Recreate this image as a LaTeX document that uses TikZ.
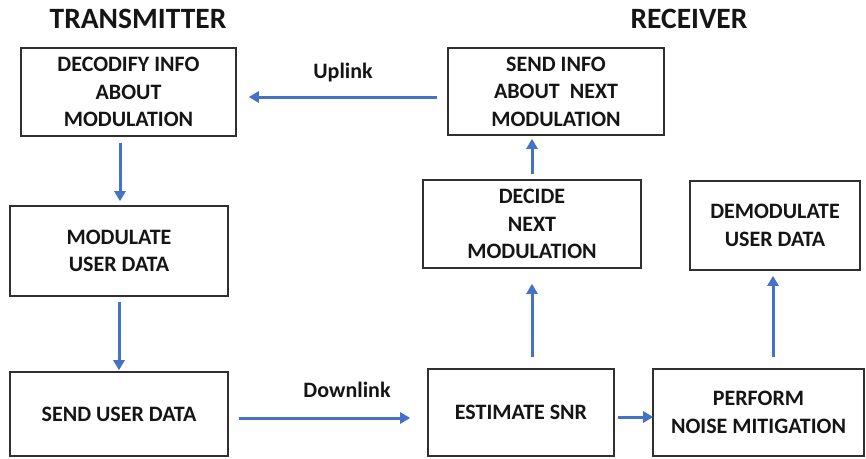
\documentclass[tikz,border=0pt]{standalone}
\usepackage{fontspec}
\setmainfont{Carlito}
\usetikzlibrary{arrows.meta,calc}
\definecolor{arrblue}{HTML}{4472C4}
\definecolor{boxline}{HTML}{303030}
\definecolor{txt}{HTML}{151515}
\begin{document}
\begin{tikzpicture}[x=1pt,y=-1pt,
  box/.style={draw=boxline,line width=1.6pt,rectangle,inner sep=0pt,align=center,
    text=txt,font=\fontsize{22}{27.5}\selectfont\bfseries},
  arr/.style={draw=arrblue,line width=3pt,-{Triangle[length=10pt,width=11pt]}},
  title/.style={text=txt,font=\fontsize{29.5}{34}\selectfont\bfseries,inner sep=0pt},
  lbl/.style={text=txt,font=\fontsize{22}{26}\selectfont\bfseries,inner sep=0pt}]
\useasboundingbox (0,0) rectangle (866,458);
\fill[white] (0,0) rectangle (866,458);
\node[title] (tx) at (138,19) {TRANSMITTER};
\node[title] (rx) at (689,19) {RECEIVER};
\node[box,minimum width=215pt,minimum height=88pt] (b1) at (128.5,92) {DECODIFY INFO\\ABOUT\\MODULATION};
\node[box,minimum width=218pt,minimum height=90pt] (b2) at (119,251) {MODULATE\\USER DATA};
\node[box,minimum width=218pt,minimum height=84pt] (b3) at (119,414) {SEND USER DATA};
\node[box,minimum width=216pt,minimum height=87pt] (b4) at (556,91.5) {SEND INFO\\ABOUT~~NEXT\\MODULATION};
\node[box,minimum width=218pt,minimum height=88pt] (b5) at (532,224) {DECIDE\\NEXT\\MODULATION};
\node[box,minimum width=170pt,minimum height=89pt] (b6) at (775,225.5) {DEMODULATE\\USER DATA};
\node[box,minimum width=186pt,minimum height=87pt] (b7) at (521,412.5) {ESTIMATE SNR};
\node[box,minimum width=211pt,minimum height=87pt] (b8) at (758.5,412.5) {PERFORM\\NOISE MITIGATION};
\node[lbl] (up) at (343,73) {Uplink};
\node[lbl] (down) at (347,390) {Downlink};
\draw[arr,shorten <=6pt,shorten >=4pt] ($(b2.north |- b1.south)+(1,0)$) -- ($(b2.north)+(1,0)$);
\draw[arr,shorten <=5pt,shorten >=1pt] (b2.south) -- (b3.north);
\draw[arr,shorten <=10pt,shorten >=17pt] ([yshift=-4pt]b3.east) -- ([yshift=-4pt]b3.east -| b7.west);
\draw[arr,shorten <=3pt,shorten >=-1pt] ([yshift=-4.5pt]b7.east) -- ([yshift=-4.5pt]b7.east -| b8.west);
\draw[arr,shorten <=11pt,shorten >=15pt] (b5.south |- b7.north) -- (b5.south);
\draw[arr,shorten <=11pt,shorten >=5pt] ($(b6.south |- b8.north)+(-2,0)$) -- ($(b6.south)+(-2,0)$);
\draw[arr,shorten <=5pt,shorten >=3pt] (b5.north) -- (b5.north |- b4.south);
\draw[arr,shorten <=10pt,shorten >=12pt] ([yshift=-5.5pt]b4.west) -- ([yshift=-5.5pt]b4.west -| b1.east);
\end{tikzpicture}
\end{document}
